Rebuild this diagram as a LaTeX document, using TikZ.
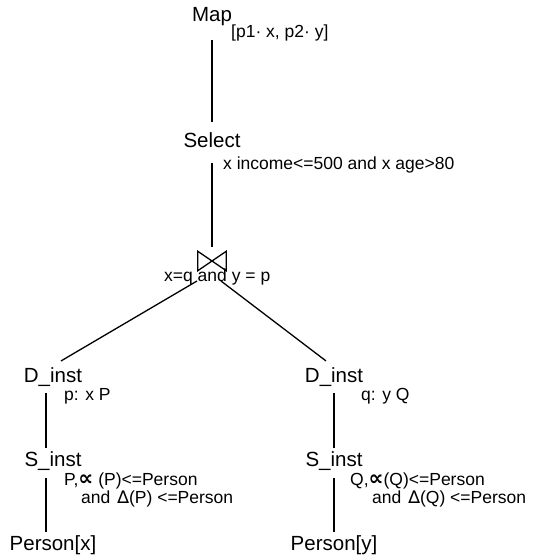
\documentclass[tikz,border=0pt]{standalone}
\usepackage{fontspec}
\setmainfont{Liberation Sans}
\newfontfamily\symfont{DejaVu Sans}
% larger, heavier proportionality sign used in the S_inst conditions
\newcommand{\propsym}{{\symfont\bfseries\fontsize{21}{18}\selectfont ∝}}
\begin{document}
\begin{tikzpicture}[x=1pt,y=-1pt,
  op/.style={inner sep=0pt, anchor=base, font=\fontsize{20.5}{22}\selectfont},
  ann/.style={inner sep=0pt, anchor=base west, font=\fontsize{17.5}{18}\selectfont},
  edge/.style={line width=1.3pt},
  joinbox/.style={inner sep=0pt, minimum width=28pt, minimum height=19pt}]
\useasboundingbox (0,0) rectangle (549,557);

% operator tree: Map / Select / join
\node[op]  (map)     at (212,21)  {Map};
\node[ann] (mapann)  at (231,37)  {[p1· x, p2· y]};
\node[op]  (select)  at (212,147) {Select};
\node[ann] (selann)  at (223,169) {x income<=500 and x age>80};
\node[joinbox] (join) at (212,261) {};
\node[ann] (joinann) at (164,281) {x=q and y = p};

% left branch
\node[op]  (dl)     at (53,382) {D\_inst};
\node[ann] (dlann)  at (64,400) {p: x P};
\node[op]  (sl)     at (53,466) {S\_inst};
\node[ann] (slann)  at (64,485) {P,\propsym{} (P)<=Person};
\node[ann] (slann2) at (81,503) {and\hspace{7pt}{\symfont ∆}(P) <=Person};
\node[op]  (pl)     at (53,550) {Person[x]};

% right branch
\node[op]  (dr)     at (334,382) {D\_inst};
\node[ann] (drann)  at (361,400) {q: y Q};
\node[op]  (sr)     at (334,466) {S\_inst};
\node[ann] (srann)  at (350,485) {Q,\propsym(Q)<=Person};
\node[ann] (srann2) at (372,503) {and\hspace{7pt}{\symfont ∆}(Q) <=Person};
\node[op]  (pr)     at (334,550) {Person[y]};

% join symbol
\draw[edge, line join=miter] (join.north west) -- (join.south east) -- (join.north east) -- (join.south west) -- cycle;

% connectors
\draw[edge] ([yshift=-19pt]map.base) -- ([yshift=25pt]select.base);
\draw[edge] ([yshift=-16pt]select.base) -- ([yshift=4pt]join.north);
\draw[edge] ([xshift=-15pt,yshift=-20pt]join.center) -- ([xshift=8pt,yshift=6pt]dl.north);
\draw[edge] ([xshift=9pt,yshift=-20pt]join.center) -- ([xshift=-8pt,yshift=6pt]dr.north);
\draw[edge] ([xshift=-7pt,yshift=-11pt]dl.base) -- ([xshift=-7pt,yshift=18pt]sl.base);
\draw[edge] ([xshift=-7pt,yshift=-12pt]sl.base) -- ([xshift=-7pt,yshift=18pt]pl.base);
\draw[edge] ([yshift=-11pt]dr.base) -- ([yshift=18pt]sr.base);
\draw[edge] ([yshift=-12pt]sr.base) -- ([yshift=18pt]pr.base);
\end{tikzpicture}
\end{document}
